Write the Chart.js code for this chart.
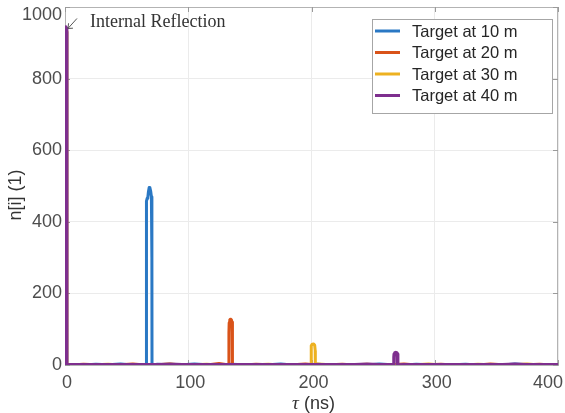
<!DOCTYPE html>
<html>
<head>
<meta charset="utf-8">
<script src="https://cdn.jsdelivr.net/npm/chart.js@4.4.0/dist/chart.umd.min.js"></script>
<style>
  html, body { margin: 0; padding: 0; background: #ffffff; }
  #wrap { width: 565px; height: 413px; }
</style>
</head>
<body>
<div id="wrap"><canvas id="c" width="565" height="413"></canvas></div>
<script>
// Received photon counts n[i] versus time of flight tau for four target distances
const seriesLabels = ['Target at 10 m', 'Target at 20 m', 'Target at 30 m', 'Target at 40 m'];
const seriesColors = ['#2a78c4', '#d95319', '#edb120', '#7e2f8e'];
const xTicks = [0, 100, 200, 300, 400];
const yTicks = [0, 200, 400, 600, 800, 1000];

// internal reflection right at tau = 0 (ns)
const reflTau = [0.6, 1.0, 1.4];
const refl10 = [936, 930, 0];
const refl20 = [938, 932, 0];
const refl30 = [940, 934, 0];
const refl40 = [944, 941, 0];

// background counts on a coarse time grid (ns)
const tauGrid = [5, 15, 25, 35, 45, 55, 65, 75, 85, 95, 105, 115, 125, 135, 145, 155, 165, 175, 185, 195,
                 205, 215, 225, 235, 245, 255, 265, 275, 285, 295, 305, 315, 325, 335, 345, 355, 365, 375, 385, 395, 400];
const base10 = [1,0,2,1,3,0,1,2,0,1, 3,1,0,2,1,0,1,3,0,1, 2,0,1,1,0,3,1,0,2,1, 0,1,2,0,1,0,3,1,0,1, 0];
const base20 = [0,2,1,0,1,3,0,1,2,0, 1,0,4,1,0,2,1,0,1,3, 0,1,2,0,1,0,1,3,0,1, 2,0,1,0,3,1,0,1,2,0, 1];
const base30 = [1,0,1,2,0,1,0,1,3,0, 1,2,0,1,0,1,2,0,1,0, 3,1,0,1,2,0,1,0,1,3, 0,1,0,2,1,0,1,3,0,1, 0];
const base40 = [1,1,1,1,1,1,1,1,2,1, 1,1,1,1,1,1,1,1,1,1, 1,1,1,1,2,1,1,1,1,1, 1,1,1,1,1,1,2,1,1,1, 1];

// target echoes
const peakTau10 = [65.9, 66.0, 66.2, 66.7, 67.2, 67.7, 68.3, 68.9, 69.5, 70.1, 70.5, 70.6];
const peakN10   = [0, 280, 458, 466, 468, 484, 496, 495, 486, 470, 300, 0];
const peakTau20 = [132.9, 133.0, 133.2, 133.7, 134.3, 134.9, 135.5, 135.8, 135.9];
const peakN20   = [0, 90, 118, 126, 128, 127, 120, 80, 0];
const peakTau30 = [199.6, 199.7, 199.9, 200.5, 201.2, 201.9, 202.6, 203.0, 203.1];
const peakN30   = [0, 40, 54, 58, 59, 58, 55, 40, 0];
const peakTau40 = [266.8, 266.9, 267.1, 267.7, 268.4, 269.1, 269.7, 269.9, 270.0];
const peakN40   = [0, 22, 31, 34, 35, 34, 31, 20, 0];

function buildSeries(reflN, base, peakTau, peakN) {
  const lo = peakTau[0], hi = peakTau[peakTau.length - 1];
  const rEnd = reflTau[reflTau.length - 1];
  const pts = [];
  reflTau.forEach((t, i) => pts.push({ x: t, y: reflN[i] }));
  tauGrid.forEach((t, i) => { if (t > rEnd && (t < lo || t > hi)) pts.push({ x: t, y: base[i] }); });
  peakTau.forEach((t, i) => pts.push({ x: t, y: peakN[i] }));
  pts.sort((a, b) => a.x - b.x);
  return pts;
}

const seriesData = [
  buildSeries(refl10, base10, peakTau10, peakN10),
  buildSeries(refl20, base20, peakTau20, peakN20),
  buildSeries(refl30, base30, peakTau30, peakN30),
  buildSeries(refl40, base40, peakTau40, peakN40)
];

const SANS = '"Liberation Sans", Arial, Helvetica, sans-serif';
const SERIF = '"Liberation Serif", "Times New Roman", serif';
const TICK_COLOR = '#4d4d4d';
const FRAME_COLOR = '#b3b3b3';

// box around the axes with inward tick marks on all four sides
const framePlugin = {
  id: 'frame',
  beforeDraw(chart) {
    // nudge the end labels so they stay inside the canvas
    const y = chart.scales.y, x = chart.scales.x;
    y.getLabelItems().forEach(it => { if (it.label === '1000') it.options.translation[1] += 8; });
    x.getLabelItems().forEach(it => {
      if (it.label === '400') { it.options.textAlign = 'right'; it.options.translation[0] = 563; }
      else { it.options.translation[0] += 2; }
    });
  },
  beforeDatasetsDraw(chart) {
    const { ctx, chartArea: a, scales } = chart;
    ctx.save();
    ctx.strokeStyle = FRAME_COLOR;
    ctx.lineWidth = 1;
    ctx.strokeRect(a.left + 0.5, a.top + 0.5, a.right - a.left - 1, a.bottom - a.top - 1);
    ctx.strokeStyle = '#9a9a9a';
    ctx.beginPath();
    const tl = 5;
    yTicks.forEach(v => {
      const p = Math.round(scales.y.getPixelForValue(v)) + 0.5;
      ctx.moveTo(a.left, p); ctx.lineTo(a.left + tl, p);
      ctx.moveTo(a.right, p); ctx.lineTo(a.right - tl, p);
    });
    xTicks.forEach(v => {
      const p = Math.round(scales.x.getPixelForValue(v)) + 0.5;
      ctx.moveTo(p, a.bottom); ctx.lineTo(p, a.bottom - tl);
      ctx.moveTo(p, a.top); ctx.lineTo(p, a.top + tl);
    });
    ctx.stroke();
    ctx.restore();
  },
  afterDatasetsDraw(chart) {
    const { ctx, chartArea: a, scales } = chart;
    ctx.save();
    // annotation for the internal reflection
    const tipX = scales.x.getPixelForValue(2.4);
    const tipY = scales.y.getPixelForValue(940);
    const tailX = tipX + 9, tailY = tipY - 10;
    ctx.strokeStyle = '#555555';
    ctx.lineWidth = 1;
    ctx.beginPath();
    ctx.moveTo(tailX, tailY); ctx.lineTo(tipX, tipY);
    ctx.moveTo(tipX, tipY); ctx.lineTo(tipX + 5, tipY - 0.3);
    ctx.moveTo(tipX, tipY); ctx.lineTo(tipX + 0.6, tipY - 5.2);
    ctx.stroke();
    ctx.fillStyle = '#333333';
    ctx.font = '18px ' + SERIF;
    ctx.textBaseline = 'alphabetic';
    ctx.textAlign = 'left';
    ctx.fillText('Internal Reflection', tailX + 13, tipY - 1);

    // legend
    const lx = a.right - 186, ly = a.top + 12, lw = 180, lh = 94;
    ctx.fillStyle = '#ffffff';
    ctx.fillRect(lx, ly, lw, lh);
    ctx.strokeStyle = '#a6a6a6';
    ctx.lineWidth = 1;
    ctx.strokeRect(lx + 0.5, ly + 0.5, lw, lh);
    ctx.font = '16.5px ' + SANS;
    ctx.textBaseline = 'middle';
    chart.data.datasets.forEach((ds, i) => {
      const cy = ly + 12 + i * 21.5;
      ctx.strokeStyle = ds.borderColor;
      ctx.lineWidth = 3;
      ctx.beginPath();
      ctx.moveTo(lx + 3, cy); ctx.lineTo(lx + 28, cy);
      ctx.stroke();
      ctx.fillStyle = '#262626';
      ctx.fillText(ds.label, lx + 40, cy + 1);
    });
    ctx.restore();
  },
  afterDraw(chart) {
    const { ctx, chartArea: a } = chart;
    ctx.save();
    ctx.fillStyle = '#333333';
    // y axis title
    ctx.translate(16, 195);
    ctx.rotate(-Math.PI / 2);
    ctx.font = '18px ' + SANS;
    ctx.textAlign = 'center';
    ctx.textBaseline = 'middle';
    ctx.fillText('n[i] (1)', 0, 0);
    ctx.setTransform(1, 0, 0, 1, 0, 0);
    // x axis title: italic tau followed by the unit
    const tau = '\u03C4', unit = ' (ns)';
    ctx.font = 'italic 19px ' + SERIF;
    const w1 = ctx.measureText(tau).width;
    ctx.font = '18px ' + SANS;
    const w2 = ctx.measureText(unit).width;
    const cx = (a.left + a.right) / 2 + 2;
    const x0 = cx - (w1 + w2) / 2;
    ctx.textAlign = 'left';
    ctx.textBaseline = 'alphabetic';
    ctx.font = 'italic 19px ' + SERIF;
    ctx.fillText(tau, x0, 409);
    ctx.font = '18px ' + SANS;
    ctx.fillText(unit, x0 + w1, 409);
    ctx.restore();
  }
};

new Chart(document.getElementById('c'), {
  type: 'line',
  data: {
    datasets: seriesLabels.map((label, i) => ({
      label,
      data: seriesData[i],
      borderColor: seriesColors[i],
      backgroundColor: seriesColors[i],
      borderWidth: i === 3 ? 3.4 : 3,
      pointRadius: 0,
      fill: false,
      tension: 0,
      order: seriesLabels.length - i
    }))
  },
  options: {
    responsive: false,
    animation: false,
    devicePixelRatio: 1,
    layout: { padding: { left: 0, right: 7, top: 7, bottom: 0 } },
    elements: { line: { borderJoinStyle: 'round', borderCapStyle: 'round' } },
    plugins: { legend: { display: false }, tooltip: { enabled: false } },
    scales: {
      x: {
        type: 'linear', min: 0, max: 400,
        afterBuildTicks(s) { s.ticks = xTicks.map(v => ({ value: v })); },
        afterFit(s) { s.height = 48; s.paddingLeft = 0; s.paddingRight = 0; },
        ticks: { font: { family: SANS, size: 18 }, color: TICK_COLOR, padding: 7, maxRotation: 0, autoSkip: false,
                 callback: v => String(v) },
        grid: { color: '#ebebeb', drawTicks: false },
        border: { color: FRAME_COLOR }
      },
      y: {
        type: 'linear', min: 0, max: 1000,
        afterBuildTicks(s) { s.ticks = yTicks.map(v => ({ value: v })); },
        afterFit(s) { s.width = 65; s.paddingTop = 0; s.paddingBottom = 0; },
        ticks: { font: { family: SANS, size: 18 }, color: TICK_COLOR, padding: 3, autoSkip: false,
                 callback: v => String(v) },
        grid: { color: '#ebebeb', drawTicks: false },
        border: { color: FRAME_COLOR }
      }
    }
  },
  plugins: [framePlugin]
});
</script>
</body>
</html>
